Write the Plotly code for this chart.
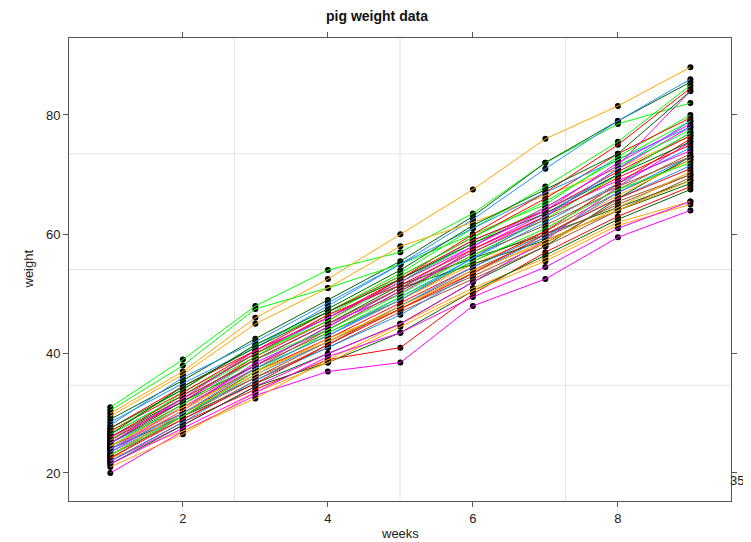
import plotly.graph_objects as go

weeks = [1, 2, 3, 4, 5, 6, 7, 8, 9]

pig_weights = [
    [31.0, 39.0, 48.0, 54.0, 57.0, 63.5, 72.0, 78.5, 82.0],
    [30.0, 37.0, 46.0, 52.5, 60.0, 67.5, 76.0, 81.5, 88.0],
    [29.0, 35.5, 42.5, 49.0, 55.5, 63.0, 72.0, 79.0, 85.5],
    [28.0, 36.0, 42.0, 48.5, 55.0, 62.5, 71.0, 79.0, 86.0],
    [20.0, 27.0, 33.0, 37.0, 38.5, 48.0, 52.5, 59.5, 64.0],
    [22.0, 28.5, 34.0, 39.0, 41.0, 50.0, 57.0, 63.0, 68.0],
    [25.0, 31.5, 38.0, 43.5, 49.0, 55.5, 60.5, 67.0, 72.5],
    [30.5, 38.0, 47.5, 51.0, 55.0, 60.0, 65.0, 73.0, 80.0],
    [29.5, 36.5, 45.0, 51.0, 58.0, 62.0, 66.5, 71.0, 76.5],
    [24.0, 29.5, 35.0, 40.0, 45.0, 52.0, 58.0, 66.0, 73.0],
    [26.5, 33.0, 40.0, 46.0, 52.0, 59.0, 64.0, 70.0, 77.0],
    [23.5, 30.5, 38.5, 44.0, 50.5, 57.0, 63.0, 71.0, 78.0],
    [25.5, 32.0, 39.5, 45.5, 52.5, 60.0, 67.0, 75.0, 84.5],
    [24.5, 30.0, 36.0, 42.0, 47.5, 53.0, 58.5, 65.5, 70.0],
    [27.0, 34.0, 41.5, 47.0, 53.5, 61.0, 68.0, 75.5, 85.0],
    [22.5, 27.0, 32.5, 39.0, 45.0, 51.0, 56.0, 62.0, 65.5],
    [26.0, 32.5, 39.0, 45.0, 51.5, 56.0, 60.0, 64.5, 69.0],
    [25.0, 31.0, 37.5, 43.0, 49.5, 56.0, 62.0, 68.5, 74.5],
    [22.0, 28.0, 34.5, 40.0, 45.0, 52.0, 59.0, 68.0, 75.5],
    [27.5, 34.5, 40.5, 47.0, 53.0, 59.5, 66.0, 73.5, 79.5],
    [23.0, 29.0, 35.5, 41.5, 48.0, 54.0, 59.5, 65.0, 70.0],
    [25.5, 33.5, 40.0, 45.5, 52.0, 58.5, 64.5, 71.5, 77.5],
    [24.0, 30.5, 37.5, 43.0, 49.0, 55.0, 60.0, 66.5, 72.5],
    [21.5, 28.0, 34.5, 38.5, 43.5, 50.5, 56.5, 62.5, 67.5],
    [28.5, 35.0, 41.0, 48.0, 55.0, 61.0, 67.0, 72.5, 78.0],
    [26.0, 32.0, 39.0, 45.0, 50.0, 57.5, 63.5, 69.0, 74.0],
    [23.0, 30.0, 37.0, 42.5, 48.5, 54.5, 60.5, 68.5, 76.0],
    [24.5, 31.0, 37.5, 44.0, 50.5, 56.5, 61.5, 67.5, 73.5],
    [26.5, 33.0, 39.5, 46.5, 53.0, 59.5, 65.5, 72.5, 79.0],
    [21.0, 26.5, 33.5, 38.5, 44.5, 50.5, 55.5, 61.5, 65.0],
    [25.0, 32.0, 38.0, 44.5, 51.0, 55.0, 59.0, 64.0, 68.5],
    [23.5, 29.5, 36.5, 42.0, 48.0, 54.5, 60.0, 66.0, 71.5],
    [24.0, 31.0, 38.0, 44.5, 51.0, 58.0, 64.5, 71.5, 84.0],
    [27.0, 33.5, 40.5, 46.0, 52.5, 59.0, 64.0, 70.5, 76.5],
    [22.5, 29.5, 36.0, 41.0, 47.0, 52.5, 58.0, 64.0, 69.5],
    [24.5, 31.5, 39.0, 44.0, 50.0, 56.5, 62.5, 70.0, 77.0],
    [23.0, 30.0, 36.5, 42.5, 47.5, 54.0, 58.5, 64.5, 70.5],
    [27.5, 34.0, 41.5, 47.5, 54.0, 61.5, 67.5, 73.5, 84.0],
    [22.0, 28.5, 35.5, 41.0, 46.5, 53.5, 59.5, 67.0, 73.0],
    [21.5, 27.5, 33.5, 39.5, 43.5, 49.5, 54.5, 61.0, 65.5],
    [26.0, 33.0, 40.0, 46.5, 51.5, 57.5, 63.0, 69.5, 75.0],
    [25.5, 32.5, 39.0, 45.0, 51.0, 57.0, 62.5, 68.0, 73.0],
    [23.0, 29.5, 37.0, 43.5, 49.5, 55.5, 61.0, 67.5, 72.0],
    [24.5, 31.0, 37.0, 42.0, 48.0, 53.5, 59.0, 64.0, 69.0],
    [26.5, 34.5, 41.0, 47.0, 52.5, 58.5, 63.5, 70.0, 75.5],
    [24.0, 30.0, 37.5, 43.0, 49.0, 56.0, 63.0, 71.0, 79.0],
    [25.0, 32.5, 40.5, 46.0, 52.0, 58.0, 64.0, 72.0, 78.5],
    [22.5, 29.0, 35.0, 41.5, 47.5, 53.5, 60.0, 66.0, 71.0],
]

line_colors = ["#00FF00", "#FFA500", "#006400", "#1E90FF", "#FF00FF", "#FF0000", "#A0522D"]

x_ticks = [2, 4, 6, 8]
y_ticks = [20, 40, 60, 80]

fig = go.Figure()

# black points first
for w in pig_weights:
    fig.add_trace(go.Scatter(x=weeks, y=w, mode="markers",
                             marker=dict(color="black", size=6),
                             showlegend=False, hoverinfo="skip"))
# coloured lines on top
for i, w in enumerate(pig_weights):
    fig.add_trace(go.Scatter(x=weeks, y=w, mode="lines",
                             line=dict(color=line_colors[i % len(line_colors)], width=1),
                             showlegend=False))

shapes = []
for f in [0.25, 0.5, 0.75]:
    shapes.append(dict(type="line", xref="x domain", yref="paper", x0=f, x1=f, y0=0, y1=1,
                       line=dict(color="#e3e3e3", width=1), layer="below"))
    shapes.append(dict(type="line", xref="paper", yref="y domain", x0=0, x1=1, y0=f, y1=f,
                       line=dict(color="#e3e3e3", width=1), layer="below"))

axis_common = dict(showline=True, linecolor="#555555", linewidth=1, mirror="ticks",
                   ticks="outside", ticklen=5, tickcolor="#555555", showgrid=False,
                   zeroline=False, tickfont=dict(size=13, color="#222222"))

# the page body adds an 8px offset; the figure is sized to compensate
W, H = 743, 534
fig.update_layout(
    width=W, height=H,
    margin=dict(l=61, r=20, t=30, b=41),
    paper_bgcolor="white", plot_bgcolor="white",
    font=dict(family="Liberation Sans, Arial, sans-serif", color="#222222"),
    title=dict(text="<b>pig weight data</b>", x=369 / W, xanchor="center",
               y=1 - 8 / H, yref="container", yanchor="middle",
               font=dict(size=14, color="#111111")),
    xaxis=dict(range=[0.43, 9.56], tickvals=x_ticks, **axis_common),
    yaxis=dict(range=[15.3, 92.9], tickvals=y_ticks, **axis_common),
    shapes=shapes,
    annotations=[
        dict(text="weeks", xref="paper", yref="paper", x=0.5, y=-32 / 463,
             xanchor="center", yanchor="middle", showarrow=False, font=dict(size=13)),
        dict(text="weight", xref="paper", yref="paper", x=-41 / 662, y=0.5,
             textangle=-90, xanchor="center", yanchor="middle", showarrow=False,
             font=dict(size=13)),
        dict(text="35", xref="paper", yref="paper", x=(737 - 69) / 662, y=21 / 463,
             xanchor="center", yanchor="middle", showarrow=False, font=dict(size=13)),
    ],
)

fig.write_html("out.html")
